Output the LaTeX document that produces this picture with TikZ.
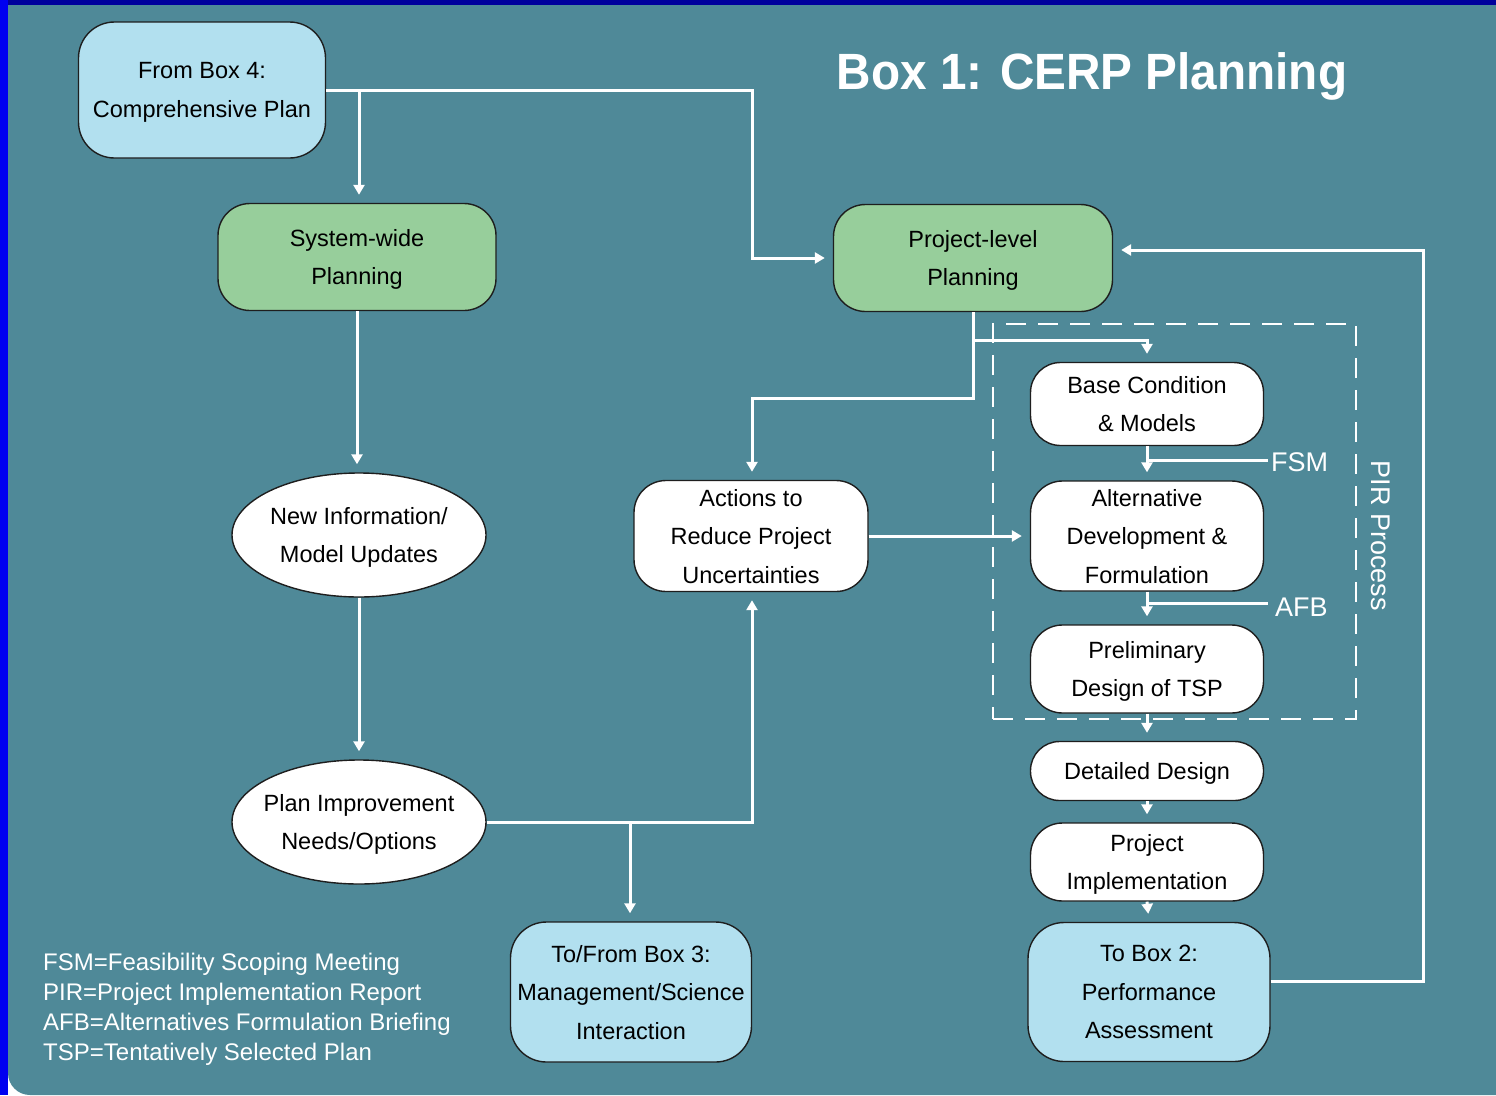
\documentclass[tikz,border=0pt]{standalone}
\usepackage{fontspec}
\setmainfont{Liberation Sans}
\usetikzlibrary{shapes.geometric,arrows.meta,calc}
\definecolor{bgteal}{HTML}{4F8998}
\definecolor{lblue}{HTML}{B2E0EF}
\definecolor{lgreen}{HTML}{97CE9B}
\definecolor{frameblue}{HTML}{0000F0}
\definecolor{topblue}{HTML}{00009C}
\definecolor{edge}{HTML}{1E1E1E}
\tikzset{
  boxtext/.style={font=\fontsize{23.5}{38.5}\selectfont, text=black, align=center, inner sep=0pt},
  rbox/.style={boxtext, draw=edge, line width=1.4pt, rounded corners=32pt, text depth=0pt},
  whitebox/.style={rbox, fill=white},
  bluebox/.style={rbox, fill=lblue},
  greenbox/.style={rbox, fill=lgreen},
  oval/.style={boxtext, ellipse, draw=edge, line width=1.4pt, fill=white, inner xsep=-14pt, text depth=-6pt},
  conn/.style={draw=white, line width=3pt},
  arr/.style={conn, -{Triangle[length=10pt,width=11pt]}, shorten >=8pt},
  lbl/.style={font=\fontsize{27}{30}\selectfont, text=white, inner sep=0pt}
}
\begin{document}
\begin{tikzpicture}[x=1pt,y=-1pt]
% background
\fill[white] (0,0) rectangle (1496,1095);
\fill[topblue] (0,0) rectangle (1496,5);
\fill[frameblue] (0,0) rectangle (8,1095);
\fill[bgteal] (8,5) -- (1496,5) -- (1496,1095) [rounded corners=22pt] -- (8,1095) [sharp corners] -- (8,5) -- cycle;
\useasboundingbox (0,0) rectangle (1496,1095);

% title
\node[font=\fontsize{51}{56}\selectfont\bfseries, text=white, inner sep=0pt, xscale=0.935] (title) at (1092,76) {Box 1: CERP Planning};

% PIR dashed region
\node[draw=white, line width=2pt, dash pattern=on 20pt off 12pt, minimum width=363pt, minimum height=395pt, inner sep=0pt] (pir) at (1174.5,521.5) {};
\node[lbl, rotate=-90] (pirlbl) at (1381,536) {PIR Process};

% nodes
\node[bluebox, minimum width=247pt, minimum height=136pt, rounded corners=36pt] (box4) at (202,90) {From Box 4:\\Comprehensive Plan};
\node[greenbox, minimum width=278pt, minimum height=107pt] (sys) at (357,257) {System-wide\\Planning};
\node[greenbox, minimum width=279pt, minimum height=107pt] (proj) at (973,258) {Project-level\\Planning};
\node[oval, minimum width=254pt, minimum height=124pt] (newinfo) at (359,535) {New Information/\\Model Updates};
\node[oval, minimum width=254pt, minimum height=124pt] (plan) at (359,822) {Plan Improvement\\Needs/Options};
\node[whitebox, minimum width=234pt, minimum height=111pt] (act) at (751,536) {Actions to\\Reduce Project\\Uncertainties};
\node[whitebox, minimum width=233pt, minimum height=83pt, rounded corners=30pt] (base) at (1147,404) {Base Condition\\\& Models};
\node[whitebox, minimum width=233pt, minimum height=110pt] (alt) at (1147,536) {Alternative\\Development \&\\Formulation};
\node[whitebox, minimum width=233pt, minimum height=88pt] (prel) at (1147,669) {Preliminary\\Design of TSP};
\node[whitebox, minimum width=233pt, minimum height=59pt, rounded corners=29pt] (det) at (1147,771) {Detailed Design};
\node[whitebox, minimum width=233pt, minimum height=78pt] (impl) at (1147,862) {Project\\Implementation};
\node[bluebox, minimum width=242pt, minimum height=139pt, rounded corners=36pt] (box2) at (1149,992) {To Box 2:\\Performance\\Assessment};
\node[bluebox, minimum width=241pt, minimum height=140pt, rounded corners=36pt] (box3) at (631,992) {To/From Box 3:\\Management/Science\\Interaction};

% labels
\node[lbl, anchor=west] (fsm) at (1271,462) {FSM};
\node[lbl, anchor=west] (afb) at (1275,607) {AFB};

% legend
\node[font=\fontsize{24}{30}\selectfont, text=white, align=left, inner sep=0pt, anchor=west] (legend) at (43,1009)
  {FSM=Feasibility Scoping Meeting\\PIR=Project Implementation Report\\AFB=Alternatives Formulation Briefing\\TSP=Tentatively Selected Plan};

% junction coordinates
\coordinate (c1) at (752,90);
\coordinate (c2) at (359,90);
\coordinate (c3) at (630,822);
\coordinate (c5) at (752,398);
\coordinate (c6) at (973,340);
\coordinate (c7) at (1423,981);
\coordinate (fsmj) at (1147,460);
\coordinate (afbj) at (1147,603);

% connectors
\draw[arr] (box4.east) -- (c1) |- (proj.west);
\draw[arr] (c2) -- (c2 |- sys.north);
\draw[arr] (sys.south) -- (sys.south |- newinfo.north);
\draw[arr] (newinfo.south) -- (plan.north);
\draw[arr] (plan.east) -| (c5 |- act.south);
\draw[arr] (c3) -- (c3 |- box3.north);
\draw[arr] (proj.south) |- (c5) -- (c5 |- act.north);
\draw[arr] (c6) -| (base.north);
\draw[arr] (act.east) -- (alt.west);
\draw[arr] (base.south) -- (alt.north);
\draw[conn] (fsmj) -- ([xshift=-3pt]fsm.west |- fsmj);
\draw[arr] (alt.south) -- (prel.north);
\draw[conn] (afbj) -- ([xshift=-7pt]afb.west |- afbj);
\draw[arr] (prel.south) -- (det.north);
\draw[arr] (det.south) -- (impl.north);
\draw[arr] (impl.south) -- (box2.north);
\draw[arr] ([yshift=11pt]box2.east) -- (c7) |- ([yshift=8pt]proj.east);
\end{tikzpicture}
\end{document}
